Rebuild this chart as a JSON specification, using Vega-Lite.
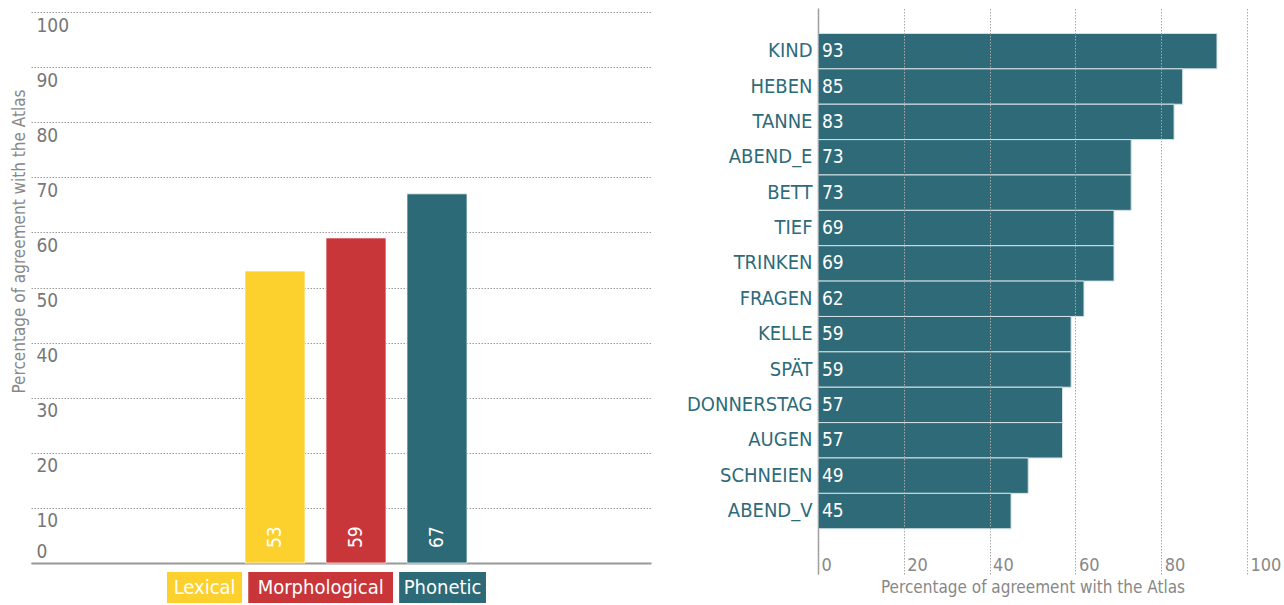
{
  "$schema": "https://vega.github.io/schema/vega-lite/v6.json",
  "background": "white",
  "padding": {"left": 9, "top": 8, "right": 0, "bottom": 0},
  "spacing": 35,
  "config": {
    "view": {"stroke": null},
    "font": "DejaVu Sans Condensed, sans-serif",
    "axis": {"labelFont": "DejaVu Sans Condensed, sans-serif", "titleFont": "DejaVu Sans Condensed, sans-serif", "titleFontWeight": "normal"}
  },
  "hconcat": [
    {
      "width": 620,
      "height": 555,
      "data": {"values": [
        {"type": "Lexical", "value": 53},
        {"type": "Morphological", "value": 59},
        {"type": "Phonetic", "value": 67}
      ]},
      "layer": [
        {
          "transform": [
            {"calculate": "length(datum.type)", "as": "w"},
            {"stack": "w", "groupby": [], "sort": [{"field": "type", "order": "ascending"}], "as": ["w0", "w1"]},
            {"calculate": "(datum.w0 + datum.w1) / 2", "as": "mid"}
          ],
          "layer": [
            {
              "mark": {"type": "bar", "stroke": "white", "strokeWidth": 6},
              "encoding": {
                "x": {"field": "w0", "type": "quantitative", "scale": {"domain": [-11.46, 41.96], "nice": false, "zero": false},
                  "axis": {"labels": false, "ticks": false, "title": null, "domain": true, "domainColor": "#999999", "domainWidth": 2, "grid": false}},
                "x2": {"field": "w1"},
                "y": {"datum": -1.09},
                "y2": {"datum": -7.8},
                "color": {"field": "type", "type": "nominal", "legend": null}
              }
            },
            {
              "mark": {"type": "text", "align": "center", "baseline": "middle", "color": "white", "fontSize": 20},
              "encoding": {
                "x": {"field": "mid", "type": "quantitative"},
                "y": {"datum": -4.54},
                "text": {"field": "type", "type": "nominal"}
              }
            }
          ]
        },
        {
          "layer": [
            {
              "mark": {"type": "bar", "stroke": "white", "strokeOpacity": 0.7, "strokeWidth": 1},
              "encoding": {
                "x": {"field": "type", "type": "nominal",
                  "scale": {"paddingInner": 0.2593, "paddingOuter": 0, "range": [214, 436]},
                  "axis": null},
                "y": {"field": "value", "type": "quantitative",
                  "scale": {"domain": [0, 100.73], "nice": false},
                  "axis": {
                    "values": [0, 10, 20, 30, 40, 50, 60, 70, 80, 90, 100],
                    "grid": true, "gridDash": [1.5, 1.5], "gridColor": "#9a9a9a", "gridWidth": 1,
                    "domain": false, "ticks": false, "tickSize": 0,
                    "labelAlign": "left", "labelPadding": -5, "labelFontSize": 19, "labelColor": "#777777",
                    "labelBaseline": {"condition": {"test": "datum.value == 0", "value": "alphabetic"}, "value": "top"},
                    "labelOffset": {"condition": {"test": "datum.value == 0", "value": -6}, "value": 4},
                    "title": "Percentage of agreement with the Atlas",
                    "titleFontSize": 17, "titleColor": "#888888", "titleAngle": 270,
                    "titleBaseline": "top", "titleAlign": "center", "titleX": -20, "titleY": 233
                  }},
                "color": {"field": "type", "type": "nominal",
                  "scale": {"domain": ["Lexical", "Morphological", "Phonetic"], "range": ["#fcd12e", "#c9363a", "#2d6a78"]},
                  "legend": null}
              }
            },
            {
              "mark": {"type": "text", "angle": 270, "align": "left", "baseline": "middle", "dx": 15, "color": "white", "fontSize": 19},
              "encoding": {
                "x": {"field": "type", "type": "nominal"},
                "y": {"datum": 0},
                "text": {"field": "value", "type": "quantitative"}
              }
            }
          ]
        }
      ],
      "resolve": {"scale": {"x": "independent"}, "axis": {"x": "independent"}}
    },
    {
      "width": 429,
      "height": 566,
      "data": {"values": [
        {"word": "KIND", "value": 93},
        {"word": "HEBEN", "value": 85},
        {"word": "TANNE", "value": 83},
        {"word": "ABEND_E", "value": 73},
        {"word": "BETT", "value": 73},
        {"word": "TIEF", "value": 69},
        {"word": "TRINKEN", "value": 69},
        {"word": "FRAGEN", "value": 62},
        {"word": "KELLE", "value": 59},
        {"word": "SPÄT", "value": 59},
        {"word": "DONNERSTAG", "value": 57},
        {"word": "AUGEN", "value": 57},
        {"word": "SCHNEIEN", "value": 49},
        {"word": "ABEND_V", "value": 45}
      ]},
      "layer": [
        {
          "mark": {"type": "bar", "color": "#2e6a78", "stroke": "#d3e2e6", "strokeWidth": 1},
          "encoding": {
            "y": {"field": "word", "type": "nominal", "sort": null,
              "scale": {"paddingInner": 0, "paddingOuter": 1, "align": 0.36},
              "axis": {"title": null, "ticks": false, "tickSize": 0, "domain": true, "domainColor": "#999999", "domainWidth": 1.5,
                "labelColor": "#2e6b7a", "labelFontSize": 20, "labelPadding": 6, "grid": false}},
            "x": {"field": "value", "type": "quantitative",
              "scale": {"domain": [0, 100], "nice": false},
              "axis": {
                "values": [0, 20, 40, 60, 80, 100],
                "grid": true, "gridDash": [1.5, 1.5], "gridColor": "#a8a8a8", "gridWidth": 1,
                "domain": false, "ticks": false, "tickSize": 0, "zindex": 1,
                "labelAlign": "left", "labelOffset": 3, "labelPadding": -4, "labelBaseline": "alphabetic",
                "labelFontSize": 18, "labelColor": "#888888", "labelFlush": false,
                "title": "Percentage of agreement with the Atlas",
                "titleFontSize": 17, "titleColor": "#888888", "titleBaseline": "top", "titleY": 5
              }}
          }
        },
        {
          "mark": {"type": "text", "align": "left", "baseline": "middle", "dx": 4, "color": "white", "fontSize": 19},
          "encoding": {
            "y": {"field": "word", "type": "nominal", "sort": null},
            "x": {"datum": 0},
            "text": {"field": "value", "type": "quantitative"}
          }
        }
      ]
    }
  ]
}
